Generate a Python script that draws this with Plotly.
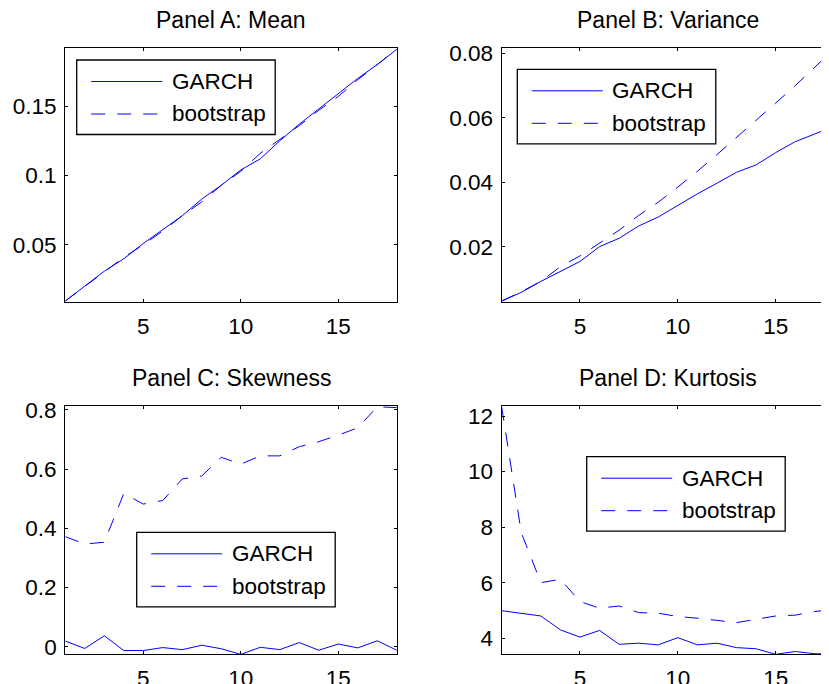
import plotly.graph_objects as go

# ---------------- data ----------------
horizon = list(range(1, 19))

mean_garch = [0.0095, 0.020, 0.031, 0.040, 0.051, 0.061, 0.071, 0.083, 0.093,
              0.104, 0.112, 0.125, 0.137, 0.148, 0.159, 0.170, 0.180, 0.191]
mean_boot = [0.0095, 0.020, 0.030, 0.041, 0.050, 0.060, 0.071, 0.081, 0.093,
             0.103, 0.116, 0.126, 0.136, 0.147, 0.157, 0.169, 0.180, 0.191]

var_garch = [0.0031, 0.0058, 0.0092, 0.0123, 0.0154, 0.0200, 0.0226, 0.0264, 0.0292,
             0.0328, 0.0364, 0.0397, 0.0431, 0.0454, 0.0492, 0.0526, 0.0551, 0.0574]
var_boot = [0.0031, 0.0060, 0.0092, 0.0138, 0.0171, 0.0210, 0.0251, 0.0297, 0.0338,
            0.0385, 0.0434, 0.0486, 0.0539, 0.0590, 0.0646, 0.0700, 0.0759, 0.0815]

skew_garch = [0.019, -0.006, 0.037, -0.013, -0.013, -0.003, -0.010, 0.005, -0.007,
              -0.026, -0.002, -0.010, 0.014, -0.012, 0.009, -0.004, 0.020, -0.012]
skew_boot = [0.372, 0.347, 0.353, 0.518, 0.482, 0.494, 0.567, 0.577, 0.640,
             0.617, 0.645, 0.645, 0.676, 0.693, 0.715, 0.740, 0.811, 0.808]

kurt_garch = [4.99, 4.90, 4.80, 4.30, 4.04, 4.28, 3.78, 3.82, 3.76,
              4.02, 3.76, 3.82, 3.66, 3.62, 3.42, 3.52, 3.44, 3.43]
kurt_boot = [12.33, 7.80, 6.00, 6.12, 5.32, 5.08, 5.16, 4.92, 4.90,
             4.78, 4.72, 4.64, 4.56, 4.68, 4.80, 4.83, 4.96, 5.04]

titles = ["Panel A: Mean", "Panel B: Variance", "Panel C: Skewness", "Panel D: Kurtosis"]
series_names = ["GARCH", "bootstrap"]

x_ticks = [5, 10, 15]
y_ticks = [[0.05, 0.10, 0.15], [0.02, 0.04, 0.06, 0.08],
           [0.0, 0.2, 0.4, 0.6, 0.8], [4, 6, 8, 10, 12]]
y_ticklabels = [["0.05", "0.1", "0.15"], ["0.02", "0.04", "0.06", "0.08"],
                ["0", "0.2", "0.4", "0.6", "0.8"], ["4", "6", "8", "10", "12"]]
y_ranges = [[0.009, 0.1917], [0.0029, 0.0816], [-0.0257, 0.8135], [3.42, 12.36]]

# ---------------- layout geometry ----------------
W, H = 829, 684
OFF = 8  # page offset of the figure div (default body margin)
FONT = "Liberation Sans, Arial, Helvetica, sans-serif"
BLUE = "#0000ff"
DASH = "14px,12px"


def px(xp):
    return (xp - OFF) / W


def py(yp):
    return 1 - (yp - OFF) / H


# plot boxes in page pixels: (left, top, right, bottom)
boxes = [(65.3, 48.3, 396.8, 301.7), (501.7, 48.3, 834.4, 301.7),
         (65.3, 406.0, 396.8, 654.3), (501.7, 406.0, 834.4, 654.3)]

data = [(mean_garch, mean_boot), (var_garch, var_boot),
        (skew_garch, skew_boot), (kurt_garch, kurt_boot)]

fig = go.Figure()
layout = dict(width=W, height=H,
              margin=dict(l=0, r=0, t=0, b=0, pad=0, autoexpand=False),
              paper_bgcolor="white", plot_bgcolor="white", showlegend=False,
              font=dict(family=FONT, size=22, color="black"))

annotations = []
shapes = []

for i, ((g, b), (l, t, r, bt)) in enumerate(zip(data, boxes)):
    sfx = "" if i == 0 else str(i + 1)
    xa, ya = "x" + sfx, "y" + sfx
    fig.add_trace(go.Scatter(x=horizon, y=g, mode="lines", name=series_names[0],
                             line=dict(color=BLUE, width=1), xaxis=xa, yaxis=ya))
    fig.add_trace(go.Scatter(x=horizon, y=b, mode="lines", name=series_names[1],
                             line=dict(color=BLUE, width=1, dash=DASH), xaxis=xa, yaxis=ya))
    layout["xaxis" + sfx] = dict(
        domain=[px(l), min(px(r), 1.0)], range=[1, 18], anchor=ya,
        tickvals=x_ticks, ticktext=[str(v) for v in x_ticks],
        ticks="inside", ticklen=3, tickwidth=1, tickcolor="black",
        showline=True, linecolor="black", linewidth=1.3, mirror="allticks",
        showgrid=False, zeroline=False, fixedrange=True, automargin=False,
        tickfont=dict(family=FONT, size=22.5, color="black"),
        ticklabelstandoff=4)
    layout["yaxis" + sfx] = dict(
        domain=[py(bt), py(t)], range=y_ranges[i], anchor=xa,
        tickvals=y_ticks[i], ticktext=y_ticklabels[i],
        ticks="inside", ticklen=3, tickwidth=1, tickcolor="black",
        showline=True, linecolor="black", linewidth=1.3, mirror="allticks",
        showgrid=False, zeroline=False, fixedrange=True, automargin=False,
        tickfont=dict(family=FONT, size=22.5, color="black"),
        ticklabelstandoff=3)
    # panel title
    annotations.append(dict(text=titles[i], xref="paper", yref="paper",
                            x=px((l + r) / 2), y=py(t - 28), xanchor="center",
                            yanchor="middle", showarrow=False,
                            font=dict(family=FONT, size=23, color="black")))

# ---------------- legends (box, line samples, labels) ----------------
legend_boxes = [(76.7, 60.0), (517.3, 69.3), (136.7, 532.3), (586.7, 456.7)]
LW, LH = 198.5, 74.5
for (bx, by) in legend_boxes:
    shapes.append(dict(type="rect", xref="paper", yref="paper",
                       x0=px(bx), x1=px(bx + LW), y0=py(by), y1=py(by + LH),
                       line=dict(color="black", width=1.3), fillcolor="white",
                       layer="above"))
    for k, dash in enumerate(["solid", DASH]):
        yy = by + 21.5 + 32.5 * k
        shapes.append(dict(type="line", xref="paper", yref="paper",
                           x0=px(bx + 14.5), x1=px(bx + 85.5), y0=py(yy), y1=py(yy),
                           line=dict(color=BLUE, width=1, dash=dash), layer="above"))
        annotations.append(dict(text=series_names[k], xref="paper", yref="paper",
                                x=px(bx + 93), y=py(yy), xanchor="left", yanchor="middle",
                                showarrow=False,
                                font=dict(family=FONT, size=22.5, color="black")))

layout["annotations"] = annotations
layout["shapes"] = shapes
fig.update_layout(**layout)

fig.write_html("out.html")
